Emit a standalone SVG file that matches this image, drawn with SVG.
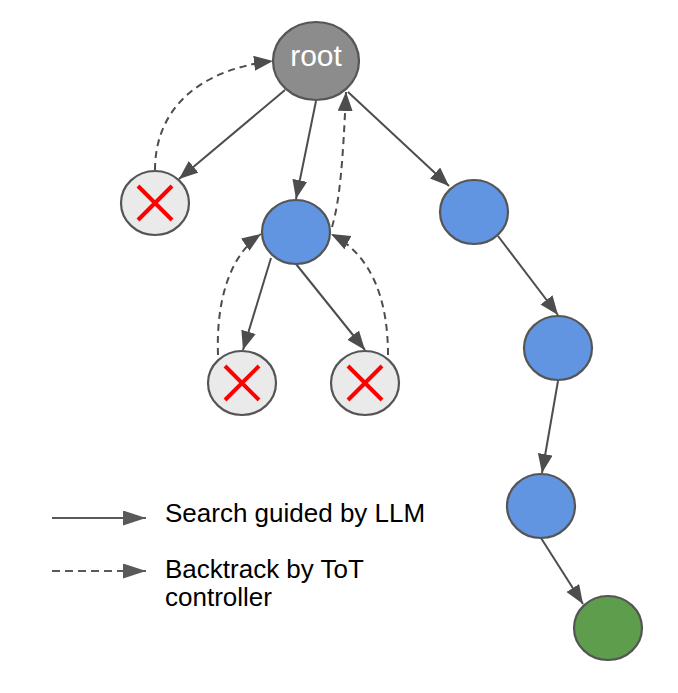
<svg xmlns="http://www.w3.org/2000/svg" width="678" height="693" viewBox="0 0 678 693">
<defs>
<style>
.node{stroke:#555555;stroke-width:2.2}
.blue{fill:#6195e2}
.gray{fill:#8c8c8c}
.fail{fill:#eaeaea}
.goal{fill:#5d9d4b}
.x{stroke:#ff0000;stroke-width:4;fill:none}
.edge{stroke:#4d4d4d;stroke-width:2;fill:none;marker-end:url(#ah)}
.back{stroke:#4d4d4d;stroke-width:2;fill:none;stroke-dasharray:7 5;marker-end:url(#ah)}
.leg{stroke:#595959;stroke-width:2;fill:none;marker-end:url(#lah)}
.lbl{font-family:"Liberation Sans",Arial,sans-serif;font-size:26px;fill:#000}
</style>
<marker id="ah" markerUnits="userSpaceOnUse" markerWidth="20" markerHeight="16" refX="19" refY="7.5" orient="auto">
<path d="M0,0 L19,7.5 L0,15 z" fill="#4d4d4d"/>
</marker>
<marker id="lah" markerUnits="userSpaceOnUse" markerWidth="24" markerHeight="16" refX="23" refY="7.5" orient="auto">
<path d="M0,0 L23,7.5 L0,15 z" fill="#595959"/>
</marker>
</defs>
<rect width="678" height="693" fill="#ffffff"/>
<g id="connectors">
<path class="edge" d="M285,90 L179,179"/>
<path class="edge" d="M316,101 L296,199"/>
<path class="edge" d="M348,92 L449,186"/>
<path class="edge" d="M271,258 L243,350"/>
<path class="edge" d="M296,264 L365,350"/>
<path class="edge" d="M498,236 L558,315"/>
<path class="edge" d="M558,381 L542,473"/>
<path class="edge" d="M541,538 L583,604"/>
<path class="back" d="M155,170 C155,112 195,70 273,61"/>
<path class="back" d="M332,227 C340,200 343,160 346,92"/>
<path class="back" d="M218,355 C216,300 230,255 261,234"/>
<path class="back" d="M388,355 C388,300 372,255 331,234"/>
<path class="leg" d="M52,518 L146,518"/>
<path class="leg" d="M52,571 L146,571" style="stroke-dasharray:8 5"/>
</g>
<g id="root">
<ellipse class="node gray" cx="316" cy="61" rx="43" ry="39"/>
<text x="316" y="66" text-anchor="middle" font-family="Liberation Sans, Arial, sans-serif" font-size="30" fill="#ffffff">root</text>
</g>
<g id="fail-left">
<ellipse class="node fail" cx="155" cy="203" rx="34" ry="32"/>
<path class="x" d="M138,186 L172,220 M172,186 L138,220"/>
</g>
<g id="mid">
<ellipse class="node blue" cx="296" cy="232" rx="34" ry="32"/>
</g>
<g id="fail-bl">
<ellipse class="node fail" cx="242" cy="383" rx="34" ry="32"/>
<path class="x" d="M225,366 L259,400 M259,366 L225,400"/>
</g>
<g id="fail-br">
<ellipse class="node fail" cx="365" cy="383" rx="34" ry="32"/>
<path class="x" d="M348,366 L382,400 M382,366 L348,400"/>
</g>
<g id="r1">
<ellipse class="node blue" cx="474" cy="212" rx="34" ry="32"/>
</g>
<g id="r2">
<ellipse class="node blue" cx="558" cy="348" rx="34" ry="32"/>
</g>
<g id="r3">
<ellipse class="node blue" cx="541" cy="506" rx="34" ry="32"/>
</g>
<g id="goal">
<ellipse class="node goal" cx="608" cy="628" rx="34" ry="32"/>
</g>
<g id="legend">
<text class="lbl" x="165" y="522">Search guided by LLM</text>
<text class="lbl" x="165" y="578">Backtrack by ToT</text>
<text class="lbl" x="165" y="606">controller</text>
</g>
</svg>
